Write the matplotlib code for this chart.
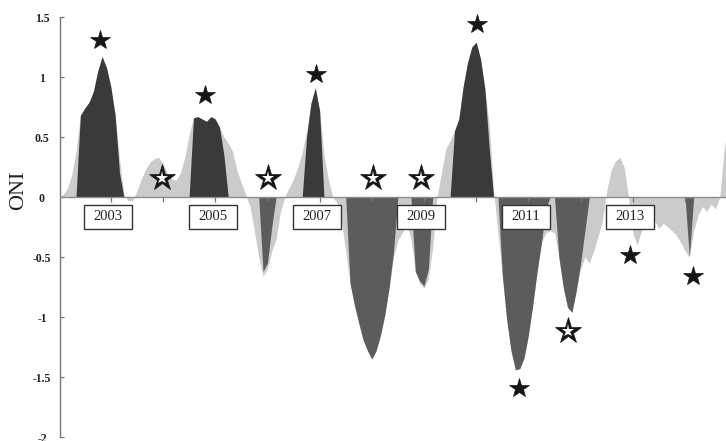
import numpy as np
import matplotlib.pyplot as plt
from matplotlib.patches import Rectangle

plt.rcParams['font.family'] = ['Liberation Serif', 'DejaVu Serif']

# monthly ONI, starting Jan 2002
oni_all = [
    0.00, 0.02, 0.07, 0.18, 0.38, 0.68, 0.74, 0.79, 0.88, 1.05, 1.17, 1.08,        # 2002
    0.92, 0.68, 0.32, 0.02, -0.03, -0.03, 0.05, 0.15, 0.23, 0.29, 0.32, 0.33,      # 2003
    0.28, 0.20, 0.15, 0.14, 0.20, 0.33, 0.52, 0.66, 0.67, 0.65, 0.63, 0.67,        # 2004
    0.65, 0.58, 0.50, 0.45, 0.38, 0.22, 0.12, 0.02, -0.08, -0.28, -0.50, -0.66,    # 2005
    -0.60, -0.45, -0.35, -0.12, 0.00, 0.08, 0.15, 0.25, 0.37, 0.55, 0.78, 0.91,    # 2006
    0.72, 0.35, 0.15, 0.00, -0.05, -0.20, -0.45, -0.72, -0.90, -1.05, -1.19, -1.28,  # 2007
    -1.35, -1.28, -1.15, -0.98, -0.75, -0.50, -0.36, -0.30, -0.22, -0.35, -0.62, -0.72,  # 2008
    -0.76, -0.68, -0.42, 0.00, 0.20, 0.40, 0.47, 0.55, 0.65, 0.92, 1.12, 1.25,     # 2009
    1.29, 1.15, 0.90, 0.60, 0.05, -0.30, -0.65, -1.02, -1.28, -1.44, -1.43, -1.34,  # 2010
    -1.15, -0.90, -0.62, -0.38, -0.30, -0.28, -0.30, -0.50, -0.75, -0.92, -0.96, -0.78,  # 2011
    -0.60, -0.50, -0.55, -0.45, -0.33, -0.20, 0.05, 0.22, 0.30, 0.33, 0.25, 0.00,  # 2012
    -0.30, -0.40, -0.28, -0.20, -0.25, -0.20, -0.26, -0.22, -0.25, -0.28, -0.32, -0.38,  # 2013
    -0.45, -0.50, -0.28, -0.15, -0.08, -0.12, -0.06, -0.10, 0.00, 0.40, 0.60,      # 2014
]

# ONI kept only during the El Nino / La Nina episodes
oni_events = [
    0, 0, 0, 0, 0, 0.68, 0.74, 0.79, 0.88, 1.05, 1.17, 1.08,                       # 2002
    0.92, 0.68, 0.20, 0, 0, 0, 0, 0, 0, 0, 0, 0,                                   # 2003
    0, 0, 0, 0, 0, 0, 0, 0.66, 0.67, 0.65, 0.63, 0.67,                             # 2004
    0.65, 0.58, 0.35, 0, 0, 0, 0, 0, 0, 0, 0, -0.62,                               # 2005
    -0.55, -0.25, 0, 0, 0, 0, 0, 0, 0, 0.50, 0.78, 0.91,                           # 2006
    0.72, 0, 0, 0, 0, 0, 0, -0.72, -0.90, -1.05, -1.19, -1.28,                     # 2007
    -1.35, -1.28, -1.15, -0.98, -0.75, -0.45, 0, 0, 0, 0, -0.62, -0.70,            # 2008
    -0.74, -0.60, 0, 0, 0, 0, 0, 0.55, 0.65, 0.92, 1.12, 1.25,                     # 2009
    1.29, 1.15, 0.90, 0.40, 0, 0, -0.65, -1.02, -1.28, -1.44, -1.43, -1.34,        # 2010
    -1.15, -0.90, -0.62, -0.38, -0.10, 0, 0, -0.50, -0.75, -0.92, -0.96, -0.78,    # 2011
    -0.55, -0.28, 0, 0, 0, 0, 0, 0, 0, 0, 0, 0,                                    # 2012
    0, 0, 0, 0, 0, 0, 0, 0, 0, 0, 0, 0,                                            # 2013
    0, -0.50, 0, 0, 0, 0, 0, 0, 0, 0, 0,                                           # 2014
]

# starred seasons (filled and open)
star_full_t = [2002.79, 2004.80, 2006.93, 2010.01, 2010.82, 2012.95, 2014.15]
star_full_v = [1.31, 0.85, 1.025, 1.44, -1.595, -0.483, -0.66]
star_open_t = [2003.99, 2006.01, 2008.02, 2008.94, 2011.75]
star_open_v = [0.156, 0.16, 0.16, 0.16, -1.12]

tick_years = list(range(2003, 2015))
label_years = [2003, 2005, 2007, 2009, 2011, 2013]
y_ticks = [1.5, 1, 0.5, 0, -0.5, -1, -1.5, -2]
y_ticklabels = ['1.5', '1', '0.5', '0', '-0.5', '-1', '-1.5', '-2']

t = 2002 + np.arange(len(oni_all)) / 12
oni_all = np.array(oni_all)
oni_events = np.array(oni_events)

fig = plt.figure(figsize=(7.26, 4.41), dpi=100)
ax = fig.add_axes([60 / 726, 0, 666 / 726, 1])

ax.fill_between(t, oni_all, 0, color='#cbcbcb', lw=0, zorder=1)
ax.fill_between(t, np.clip(oni_events, 0, None), 0, color='#3a3a3a', lw=0, zorder=2)
ax.fill_between(t, np.clip(oni_events, None, 0), 0, color='#5c5c5c', lw=0, zorder=2)

ax.axhline(0, color='#8c8c8c', lw=1.0, zorder=3)
ax.vlines(tick_years, -0.04, 0, color='#777777', lw=0.9, zorder=3)

for yr in label_years:
    ax.add_patch(Rectangle((yr - 0.05 - 0.46, -0.267), 0.92, 0.2,
                           facecolor='white', edgecolor='#333333', lw=1.0, zorder=5))
    ax.text(yr - 0.05, -0.165, str(yr), ha='center', va='center',
            fontsize=10.5, color='#222222', zorder=6)

ax.plot(star_full_t, star_full_v, ls='none', marker='*', ms=15,
        color='#161616', mew=0.5, zorder=7)
# open stars: black star with a smaller white star on top
ax.plot(star_open_t, star_open_v, ls='none', marker='*', ms=19.5,
        color='#161616', mew=0.5, zorder=7)
ax.plot(star_open_t, star_open_v, ls='none', marker='*', ms=9.5,
        color='white', mew=0, zorder=8)

ax.set_xlim(2002 + 1.4 / 52.2, 2002 + 667.4 / 52.2)
ax.set_ylim(-2 - 4 / 120, 1.5 + 17 / 120)
ax.set_xticks([])
ax.set_yticks(y_ticks)
ax.set_yticklabels(y_ticklabels, fontweight='bold', fontsize=8.5, color='#222222')
for lbl in ax.get_yticklabels():
    lbl.set_ha('center')
ax.tick_params(axis='y', direction='in', length=3, width=0.9, color='#777777', pad=13)

for side in ['top', 'right', 'bottom']:
    ax.spines[side].set_visible(False)
ax.spines['left'].set_bounds(-2, 1.5)
ax.spines['left'].set_color('#777777')
ax.spines['left'].set_linewidth(1.0)
ax.patch.set_alpha(0)

ax.text((19 - 60) / 666, 1 - 190 / 441, 'ONI', transform=ax.transAxes,
        rotation=90, ha='center', va='center', fontsize=16, color='#222222')

fig.savefig('out.png', dpi=100)
